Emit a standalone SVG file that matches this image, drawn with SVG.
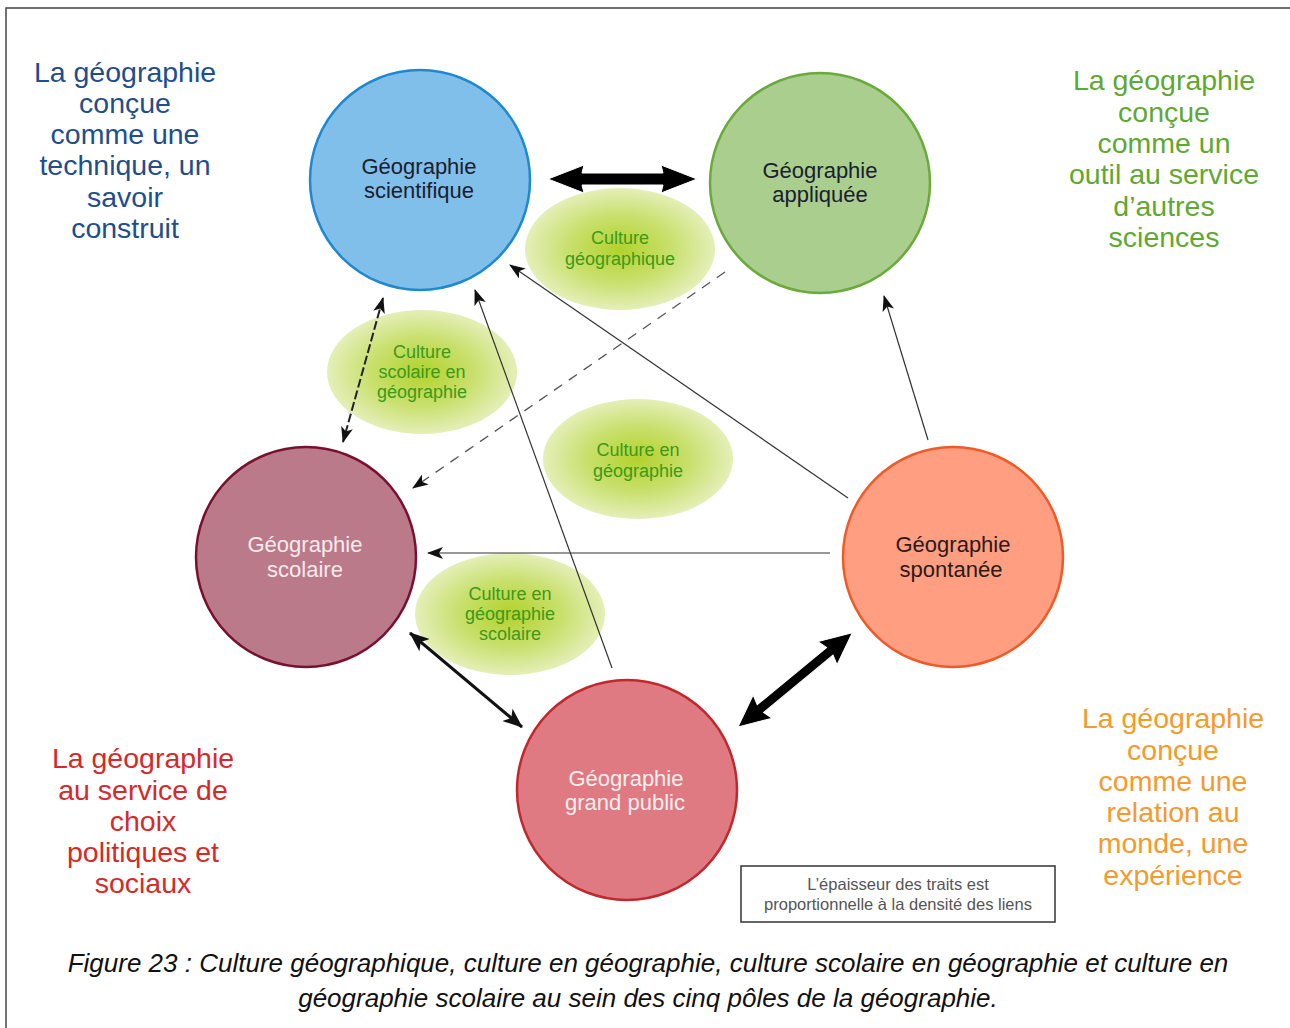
<svg xmlns="http://www.w3.org/2000/svg" width="1290" height="1028" viewBox="0 0 1290 1028">
<defs>
<radialGradient id="gr" cx="50%" cy="50%" r="50%">
<stop offset="0" stop-color="#B2D22C"/>
<stop offset="0.55" stop-color="#C9E06E"/>
<stop offset="1" stop-color="#E4EFB8"/>
</radialGradient>
<marker id="ah" markerUnits="userSpaceOnUse" markerWidth="16" markerHeight="12" refX="15" refY="6" orient="auto-start-reverse">
<path d="M0,0 L16,6 L0,12 L4,6 z" fill="#111"/>
</marker>
<marker id="ahm" markerUnits="userSpaceOnUse" markerWidth="20" markerHeight="16" refX="19" refY="8" orient="auto-start-reverse">
<path d="M0,0 L20,8 L0,16 L5,8 z" fill="#111"/>
</marker>
<style>
.side{font-family:"Liberation Sans",Arial,sans-serif;font-size:28.5px;text-anchor:middle}
.nd{font-family:"Liberation Sans",Arial,sans-serif;font-size:22px;text-anchor:middle}
.cu{font-family:"Liberation Sans",Arial,sans-serif;font-size:18px;text-anchor:middle;fill:#3A9A1A}
.thin{stroke:#333;stroke-width:1.2;fill:none}
</style>
</defs>
<rect width="1290" height="1028" fill="#fff"/>
<path d="M6,1028 V8 H1290" fill="none" stroke="#444" stroke-width="1.5"/>

<g id="side-texts">
<text class="side" fill="#1F4E8C"><tspan x="125" y="82">La géographie</tspan><tspan x="125" y="113">conçue</tspan><tspan x="125" y="144">comme une</tspan><tspan x="125" y="175">technique, un</tspan><tspan x="125" y="207">savoir</tspan><tspan x="125" y="238">construit</tspan></text>
<text class="side" fill="#5FA832"><tspan x="1164" y="90">La géographie</tspan><tspan x="1164" y="122">conçue</tspan><tspan x="1164" y="153">comme un</tspan><tspan x="1164" y="184">outil au service</tspan><tspan x="1164" y="216">d’autres</tspan><tspan x="1164" y="247">sciences</tspan></text>
<text class="side" fill="#D42A2A"><tspan x="143" y="768">La géographie</tspan><tspan x="143" y="800">au service de</tspan><tspan x="143" y="831">choix</tspan><tspan x="143" y="862">politiques et</tspan><tspan x="143" y="893">sociaux</tspan></text>
<text class="side" fill="#F59A2C"><tspan x="1173" y="728">La géographie</tspan><tspan x="1173" y="760">conçue</tspan><tspan x="1173" y="791">comme une</tspan><tspan x="1173" y="822">relation au</tspan><tspan x="1173" y="853">monde, une</tspan><tspan x="1173" y="885">expérience</tspan></text>
</g>

<g id="node-scientifique">
<circle cx="420" cy="180" r="110" fill="#80BFE9" stroke="#1E88D0" stroke-width="2.5"/>
<text class="nd" fill="#1A2030"><tspan x="419" y="174">Géographie</tspan><tspan x="419" y="198">scientifique</tspan></text>
</g>
<g id="node-appliquee">
<circle cx="820" cy="183" r="110" fill="#A9CE8E" stroke="#6AAA3A" stroke-width="2.5"/>
<text class="nd" fill="#1A2030"><tspan x="820" y="178">Géographie</tspan><tspan x="820" y="202">appliquée</tspan></text>
</g>
<g id="node-scolaire">
<circle cx="306" cy="557" r="110" fill="#BA7A8A" stroke="#7A1030" stroke-width="2.5"/>
<text class="nd" fill="#F8EAEE"><tspan x="305" y="552">Géographie</tspan><tspan x="305" y="577">scolaire</tspan></text>
</g>
<g id="node-spontanee">
<circle cx="953" cy="557" r="110" fill="#FF9E80" stroke="#F05A28" stroke-width="2.5"/>
<text class="nd" fill="#2A1A1A"><tspan x="953" y="552">Géographie</tspan><tspan x="951" y="577">spontanée</tspan></text>
</g>
<g id="node-grandpublic">
<circle cx="627" cy="790" r="110" fill="#E07A82" stroke="#C0282E" stroke-width="2.5"/>
<text class="nd" fill="#FBEFF0"><tspan x="626" y="786">Géographie</tspan><tspan x="625" y="810">grand public</tspan></text>
</g>

<g id="culture-geographique">
<ellipse cx="620" cy="249" rx="95" ry="61" fill="url(#gr)"/>
<text class="cu"><tspan x="620" y="244">Culture</tspan><tspan x="620" y="265">géographique</tspan></text>
</g>
<g id="culture-scolaire-en-geographie">
<ellipse cx="422" cy="372" rx="95" ry="62" fill="url(#gr)"/>
<text class="cu"><tspan x="422" y="358">Culture</tspan><tspan x="422" y="378">scolaire en</tspan><tspan x="422" y="398">géographie</tspan></text>
</g>
<g id="culture-en-geographie">
<ellipse cx="638" cy="459" rx="95" ry="60" fill="url(#gr)"/>
<text class="cu"><tspan x="638" y="456">Culture en</tspan><tspan x="638" y="477">géographie</tspan></text>
</g>
<g id="culture-en-geographie-scolaire">
<ellipse cx="510" cy="614" rx="95" ry="61" fill="url(#gr)"/>
<text class="cu"><tspan x="510" y="600">Culture en</tspan><tspan x="510" y="620">géographie</tspan><tspan x="510" y="640">scolaire</tspan></text>
</g>

<g id="connectors">
<path d="M548,179 L584,165 L582,173 L663,173 L661,165 L697,179 L661,193 L663,185 L582,185 L584,193 Z" fill="#000" stroke="#fff" stroke-width="1"/>
<line x1="383" y1="298" x2="343" y2="442" stroke="#222" stroke-width="2" stroke-dasharray="9 3" marker-start="url(#ah)" marker-end="url(#ah)"/>
<line x1="725" y1="272" x2="413" y2="488" stroke="#555" stroke-width="1.3" stroke-dasharray="10 8" marker-end="url(#ah)"/>
<line class="thin" x1="612" y1="668" x2="475" y2="290" marker-end="url(#ah)"/>
<line class="thin" x1="848" y1="498" x2="510" y2="265" marker-end="url(#ah)"/>
<line class="thin" x1="928" y1="440" x2="884" y2="296" marker-end="url(#ah)"/>
<line class="thin" x1="830" y1="553" x2="428" y2="553" marker-end="url(#ah)"/>
<line x1="410" y1="633" x2="522" y2="727" stroke="#111" stroke-width="3" marker-start="url(#ahm)" marker-end="url(#ahm)"/>
<g transform="translate(738,727) rotate(-39.5)">
<path d="M0,0 L32,-15 L29,-5 L119,-5 L116,-15 L148,0 L116,15 L119,5 L29,5 L32,15 Z" fill="#000" stroke="#fff" stroke-width="1"/>
</g>
</g>

<g id="legend">
<rect x="741" y="866" width="314" height="56" fill="#fff" stroke="#333" stroke-width="1.5"/>
<text font-family="Liberation Sans,Arial,sans-serif" font-size="16.5" fill="#555" text-anchor="middle"><tspan x="898" y="890">L’épaisseur des traits est</tspan><tspan x="898" y="910">proportionnelle à la densité des liens</tspan></text>
</g>

<g id="caption">
<text font-family="Liberation Sans,Arial,sans-serif" font-size="26" font-style="italic" fill="#111" text-anchor="middle"><tspan x="648" y="972">Figure 23 : Culture géographique, culture en géographie, culture scolaire en géographie et culture en</tspan><tspan x="648" y="1007">géographie scolaire au sein des cinq pôles de la géographie.</tspan></text>
</g>
</svg>
